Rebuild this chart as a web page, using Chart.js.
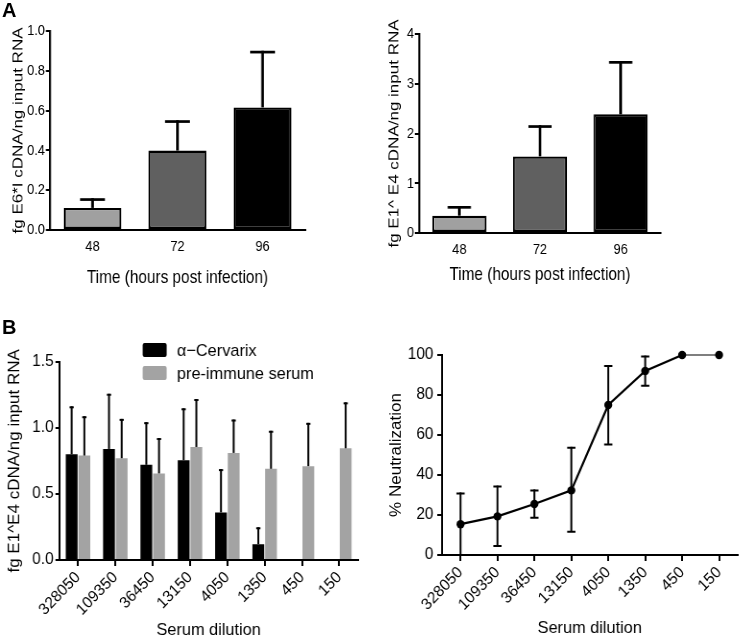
<!DOCTYPE html>
<html>
<head>
<meta charset="utf-8">
<script src="https://cdn.jsdelivr.net/npm/chart.js@4.4.1/dist/chart.umd.min.js"></script>
<style>
  html, body { margin: 0; padding: 0; background: #fff; width: 742px; height: 639px; overflow: hidden; }
  canvas { position: absolute; transform-origin: 0 0; }
  .lbl { position: absolute; font: bold 20px/20px 'Liberation Sans', Arial, sans-serif; color: #000; z-index: 5; }
</style>
</head>
<body>
<canvas id="cA1"></canvas>
<canvas id="cA2"></canvas>
<canvas id="cB1"></canvas>
<canvas id="cB2"></canvas>
<div class="lbl" style="left:2px;top:0px">A</div>
<div class="lbl" style="left:2px;top:317px">B</div>
<script>
// ---------------- data ----------------
const timeLabels = ['48', '72', '96'];
const timeColors = ['#a0a0a0', '#606060', '#000000'];
const e6iValues = [0.111, 0.399, 0.616];
const e6iErrHigh = [0.153, 0.545, 0.894];
const e1e4TimeValues = [0.348, 1.54, 2.385];
const e1e4TimeErrHigh = [0.516, 2.14, 3.43];

const dilutionLabels = ['328050', '109350', '36450', '13150', '4050', '1350', '450', '150'];
const cervarixValues = [0.80, 0.84, 0.72, 0.755, 0.36, 0.12, 0, 0];
const cervarixErrHigh = [1.155, 1.25, 1.035, 1.14, 0.68, 0.24, null, null];
const preImmuneValues = [0.79, 0.77, 0.655, 0.855, 0.81, 0.69, 0.71, 0.845];
const preImmuneErrHigh = [1.08, 1.06, 0.915, 1.21, 1.055, 0.97, 1.03, 1.185];

const neutValues = [15.4, 19.3, 25.5, 32.3, 75, 92, 100, 100];
const neutErrLow = [0, 4.5, 18.6, 11.6, 55.3, 84.6, null, null];
const neutErrHigh = [30.8, 34.2, 32.3, 53.6, 94.5, 99.2, null, null];

// ---------------- setup ----------------
const FONT = "'Liberation Sans', Arial, Helvetica, sans-serif";
Chart.defaults.font.family = FONT;
Chart.defaults.color = '#000';
Chart.defaults.animation = false;

function setupCanvas(id, sx, sy, sw, sh, k) {
  const c = document.getElementById(id);
  const w = Math.round(sw / k);
  c.width = w; c.height = sh;
  c.style.left = sx + 'px'; c.style.top = sy + 'px';
  c.style.width = w + 'px'; c.style.height = sh + 'px';
  c.style.transform = 'scaleX(' + k + ')';
  return c;
}

const errorBarPlugin = {
  id: 'errorBars',
  beforeDatasetsDraw(chart, args, opts) { if (opts.under) drawErrorBars(chart, opts); },
  afterDatasetsDraw(chart, args, opts) { if (!opts.under) drawErrorBars(chart, opts); }
};
function drawErrorBars(chart, opts) {
  const ctx = chart.ctx;
  const yScale = chart.scales.y;
  chart.data.datasets.forEach((ds, i) => {
    if (!ds.errHigh) return;
    const meta = chart.getDatasetMeta(i);
    meta.data.forEach((el, j) => {
      const hi = ds.errHigh[j];
      if (hi === null || hi === undefined) return;
      const lo = ds.errLow ? ds.errLow[j] : null;
      const x = el.x;
      const yTop = yScale.getPixelForValue(hi);
      const yBot = (lo === null || lo === undefined) ? el.y : yScale.getPixelForValue(lo);
      ctx.save();
      ctx.strokeStyle = opts.color || '#000';
      ctx.lineCap = 'butt';
      ctx.lineWidth = opts.vWidth;
      ctx.beginPath(); ctx.moveTo(x, yBot); ctx.lineTo(x, yTop - opts.capWidth / 2); ctx.stroke();
      ctx.lineWidth = opts.capWidth;
      ctx.beginPath();
      ctx.moveTo(x - opts.cap, yTop); ctx.lineTo(x + opts.cap, yTop);
      if (lo !== null && lo !== undefined && ds.errLow) { ctx.moveTo(x - opts.cap, yBot); ctx.lineTo(x + opts.cap, yBot); }
      ctx.stroke();
      ctx.restore();
    });
  });
}

const boxLegendPlugin = {
  id: 'boxLegend',
  afterDraw(chart, args, o) {
    const ctx = chart.ctx;
    ctx.save();
    ctx.font = o.font;
    ctx.textBaseline = 'middle';
    ctx.textAlign = 'left';
    chart.data.datasets.forEach((ds, i) => {
      const y = o.y + i * o.rowGap;
      ctx.fillStyle = ds.backgroundColor;
      ctx.beginPath();
      if (ctx.roundRect) ctx.roundRect(o.x, y, o.boxW, o.boxH, 2); else ctx.rect(o.x, y, o.boxW, o.boxH);
      ctx.fill();
      ctx.fillStyle = '#000';
      ctx.fillText(ds.label, o.x + o.textDx, y + o.boxH / 2 + 1);
    });
    ctx.restore();
  }
};

function yAxis(o) {
  return {
    type: 'linear', min: o.min, max: o.max,
    afterFit: s => { s.width = o.width; },
    border: { display: true, color: '#000', width: o.borderW || 2 },
    grid: { drawOnChartArea: false, drawTicks: true, tickLength: o.tickLen, color: '#000', lineWidth: 2 },
    ticks: { stepSize: o.step, padding: o.tickPad, font: { size: o.tickSize }, color: '#000',
             callback: o.fmt },
    title: { display: true, text: o.title, font: { size: 17 }, color: '#000', padding: { top: o.titlePad, bottom: 0 } }
  };
}
function xAxis(o) {
  return {
    type: 'category', offset: true,
    afterFit: s => { s.height = o.height; },
    border: { display: true, color: '#000', width: 2 },
    grid: { offset: false, drawOnChartArea: false, drawTicks: o.drawTicks, tickLength: o.tickLen || 6, color: '#000', lineWidth: 2 },
    ticks: { padding: o.tickPad, font: { size: o.tickSize }, color: '#000', autoSkip: false,
             minRotation: o.rot || 0, maxRotation: o.rot || 0 },
    title: { display: true, text: o.title, font: { size: o.titleSize }, color: '#000', padding: { top: 0, bottom: o.titlePad } }
  };
}

// ---------------- A left ----------------
new Chart(setupCanvas('cA1', 0, 0, 371, 300, 0.83), {
  type: 'bar',
  data: { labels: timeLabels, datasets: [{
    label: 'E6*I', data: e6iValues, errHigh: e6iErrHigh,
    backgroundColor: timeColors, borderColor: '#000', borderWidth: 2.4, borderSkipped: false,
    barPercentage: 0.68, categoryPercentage: 1 }] },
  options: {
    responsive: false, devicePixelRatio: 1,
    layout: { padding: { left: 0, right: 79.5, top: 31, bottom: 0 } },
    plugins: { legend: { display: false }, tooltip: { enabled: false },
               errorBars: { vWidth: 3.2, capWidth: 2.7, cap: 15, color: '#000' } },
    scales: {
      x: xAxis({ height: 70, drawTicks: false, tickPad: 7.7, tickSize: 15.5, titleSize: 18.5,
                 title: 'Time (hours post infection)', titlePad: 10.9 }),
      y: yAxis({ min: 0, max: 1.0, step: 0.2, width: 60.2, tickLen: 5, tickPad: 1, borderW: 2.4, tickSize: 15.5,
                 fmt: v => v.toFixed(1), title: 'fg E6*I cDNA/ng input RNA', titlePad: 12.1 })
    }
  },
  plugins: [errorBarPlugin]
});

// ---------------- A right ----------------
new Chart(setupCanvas('cA2', 371, 0, 371, 300, 0.83), {
  type: 'bar',
  data: { labels: timeLabels, datasets: [{
    label: 'E1^E4', data: e1e4TimeValues, errHigh: e1e4TimeErrHigh,
    backgroundColor: timeColors, borderColor: '#000', borderWidth: 2.4, borderSkipped: false,
    barPercentage: 0.67, categoryPercentage: 1 }] },
  options: {
    responsive: false, devicePixelRatio: 1,
    layout: { padding: { left: 0, right: 97.6, top: 34, bottom: 0 } },
    plugins: { legend: { display: false }, tooltip: { enabled: false },
               errorBars: { vWidth: 3.2, capWidth: 2.7, cap: 14, color: '#000' } },
    scales: {
      x: xAxis({ height: 67, drawTicks: false, tickPad: 7.7, tickSize: 15.5, titleSize: 18.5,
                 title: 'Time (hours post infection)', titlePad: 13.9 }),
      y: yAxis({ min: 0, max: 4, step: 1, width: 57.8, tickLen: 5, tickPad: 1, borderW: 2.4, tickSize: 15.5,
                 fmt: v => String(v), title: 'fg E1^ E4 cDNA/ng input RNA', titlePad: 18.1 })
    }
  },
  plugins: [errorBarPlugin]
});

// ---------------- B left ----------------
new Chart(setupCanvas('cB1', 0, 310, 371, 329, 0.96), {
  type: 'bar',
  data: { labels: dilutionLabels, datasets: [
    { label: 'α−Cervarix', data: cervarixValues, errHigh: cervarixErrHigh,
      backgroundColor: '#000000', borderWidth: 0, barPercentage: 0.93, categoryPercentage: 0.68 },
    { label: 'pre-immune serum', data: preImmuneValues, errHigh: preImmuneErrHigh,
      backgroundColor: '#a3a3a3', borderWidth: 0, barPercentage: 0.93, categoryPercentage: 0.68 }
  ] },
  options: {
    responsive: false, devicePixelRatio: 1,
    layout: { padding: { left: 0, right: 13.1, top: 51.7, bottom: 0 } },
    plugins: { legend: { display: false }, tooltip: { enabled: false },
               errorBars: { vWidth: 2, capWidth: 2, cap: 2.2, color: '#000' },
               boxLegend: { x: 148.6, y: 33, boxW: 25, boxH: 14, rowGap: 23, textDx: 35.7, font: '17px ' + FONT } },
    scales: {
      x: xAxis({ height: 79, drawTicks: true, tickLen: 6, tickPad: 2, rot: 45, tickSize: 16, titleSize: 17,
                 title: 'Serum dilution', titlePad: -1.2 }),
      y: yAxis({ min: 0, max: 1.5, step: 0.5, width: 61.8, tickLen: 4, tickPad: 2, tickSize: 16,
                 fmt: v => v.toFixed(1), title: 'fg E1^E4 cDNA/ng input RNA', titlePad: 5.4 })
    }
  },
  plugins: [errorBarPlugin, boxLegendPlugin]
});

// ---------------- B right ----------------
new Chart(setupCanvas('cB2', 371, 310, 371, 329, 0.96), {
  type: 'line',
  data: { labels: dilutionLabels, datasets: [{
    label: '% Neutralization', data: neutValues, errLow: neutErrLow, errHigh: neutErrHigh,
    borderColor: '#000', backgroundColor: '#000', borderWidth: 2.2, fill: false, tension: 0,
    pointRadius: 4.2, pointBackgroundColor: '#000', pointBorderWidth: 0, clip: false,
    segment: { borderWidth: c => (c.p1DataIndex === 7 ? 1.1 : 2.2) } }] },
  options: {
    responsive: false, devicePixelRatio: 1,
    layout: { padding: { left: 0, right: 0, top: 45, bottom: 0 } },
    plugins: { legend: { display: false }, tooltip: { enabled: false },
               errorBars: { under: true, vWidth: 2, capWidth: 2, cap: 4.3, color: '#000' } },
    scales: {
      x: xAxis({ height: 84, drawTicks: true, tickLen: 6, tickPad: 2, rot: 45, tickSize: 16, titleSize: 17,
                 title: 'Serum dilution', titlePad: 0.8 }),
      y: yAxis({ min: 0, max: 100, step: 20, width: 74, tickLen: 5, tickPad: 4, tickSize: 16,
                 fmt: v => String(v), title: '% Neutralization', titlePad: 15.8 })
    }
  },
  plugins: [errorBarPlugin]
});
</script>
</body>
</html>
